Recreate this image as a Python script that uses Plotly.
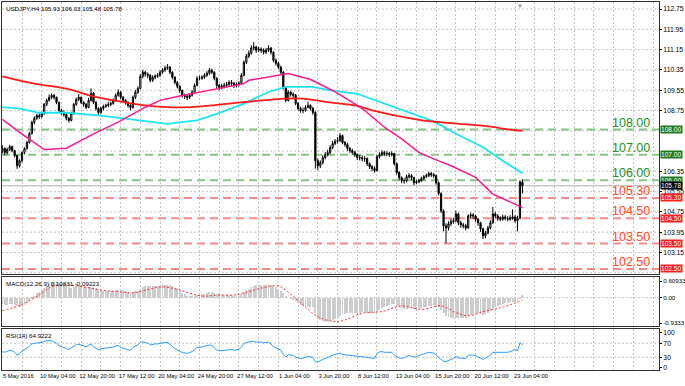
import plotly.graph_objects as go
from plotly.subplots import make_subplots

# ---------------- data (USDJPY H4) ----------------
first_open = 107.15
closes = [
    107.25, 107.09, 107.21, 107.33, 107.17, 106.97, 106.57, 106.77, 107.09, 107.25,
    107.49, 107.84, 108.28, 108.44, 108.55, 108.51, 108.63, 108.99, 109.15, 109.27,
    109.35, 109.27, 109.07, 108.75, 108.67, 108.59, 108.44, 108.36, 108.63, 108.99,
    109.19, 109.27, 109.07, 108.99, 108.87, 109.15, 109.43, 109.07, 108.83, 108.67,
    108.83, 108.91, 108.95, 108.99, 109.03, 109.15, 109.35, 109.47, 109.27, 109.15,
    109.07, 108.95, 108.87, 109.27, 109.47, 109.62, 110.10, 110.26, 110.18, 110.14,
    109.94, 110.06, 110.10, 110.14, 110.26, 110.34, 110.42, 110.46, 110.26, 110.06,
    109.86, 109.70, 109.54, 109.35, 109.31, 109.27, 109.35, 109.47, 109.74, 110.02,
    110.02, 110.06, 110.14, 110.22, 110.34, 110.26, 110.02, 109.74, 109.66, 109.70,
    109.74, 109.78, 109.86, 109.82, 109.74, 109.78, 109.82, 110.14, 110.65, 110.89,
    111.01, 111.21, 111.25, 111.13, 111.17, 111.13, 111.05, 111.13, 111.21, 111.05,
    110.73, 110.61, 110.46, 110.26, 109.66, 109.15, 109.47, 109.39, 109.35, 109.03,
    108.83, 108.75, 108.75, 108.87, 108.95, 108.83, 108.67, 106.77, 106.57, 106.69,
    106.89, 107.01, 107.09, 107.29, 107.45, 107.53, 107.57, 107.76, 107.49, 107.41,
    107.25, 107.17, 107.09, 107.01, 106.89, 106.89, 106.85, 106.85, 106.65, 106.53,
    106.46, 106.38, 106.93, 107.01, 107.09, 107.05, 107.05, 107.01, 107.05, 106.65,
    106.30, 106.10, 105.98, 105.98, 106.14, 106.18, 106.10, 105.90, 105.94, 105.98,
    106.06, 106.14, 106.18, 106.26, 106.22, 106.18, 105.90, 105.47, 104.79, 104.20,
    104.12, 104.28, 104.36, 104.40, 104.67, 104.32, 104.24, 104.20, 104.12, 104.59,
    104.63, 104.59, 104.46, 104.32, 104.08, 103.80, 103.92, 104.12, 104.32, 104.67,
    104.59, 104.50, 104.46, 104.55, 104.50, 104.46, 104.50, 104.55, 104.40, 104.50,
    105.93, 105.78,
]
highs = [
    107.38, 107.30, 107.28, 107.40, 107.36, 107.20, 107.00, 106.82, 107.14, 107.30,
    107.55, 107.90, 108.35, 108.52, 108.62, 108.64, 108.70, 109.05, 109.22, 109.38,
    109.42, 109.40, 109.30, 109.10, 108.82, 108.75, 108.65, 108.50, 108.70, 109.05,
    109.26, 109.40, 109.30, 109.12, 109.05, 109.25, 109.62, 109.48, 109.12, 108.88,
    108.90, 108.98, 109.02, 109.08, 109.10, 109.22, 109.42, 109.58, 109.52, 109.32,
    109.20, 109.12, 109.00, 109.34, 109.55, 109.70, 110.18, 110.35, 110.32, 110.25,
    110.18, 110.14, 110.18, 110.22, 110.34, 110.42, 110.52, 110.58, 110.50, 110.30,
    110.10, 109.92, 109.76, 109.58, 109.42, 109.38, 109.42, 109.55, 109.82, 110.10,
    110.12, 110.14, 110.22, 110.30, 110.42, 110.40, 110.30, 110.06, 109.80, 109.80,
    109.84, 109.88, 109.94, 109.95, 109.88, 109.86, 109.90, 110.22, 110.72, 110.98,
    111.12, 111.32, 111.45, 111.30, 111.26, 111.24, 111.20, 111.22, 111.32, 111.26,
    111.08, 110.80, 110.68, 110.52, 110.30, 109.70, 109.55, 109.52, 109.46, 109.40,
    109.08, 108.90, 108.86, 108.96, 109.10, 109.00, 108.90, 108.72, 106.85, 106.78,
    106.98, 107.12, 107.20, 107.38, 107.55, 107.62, 107.70, 107.86, 107.80, 107.55,
    107.48, 107.32, 107.24, 107.16, 107.06, 107.00, 106.98, 106.96, 106.90, 106.70,
    106.60, 106.55, 107.00, 107.10, 107.18, 107.16, 107.14, 107.12, 107.14, 107.08,
    106.70, 106.35, 106.15, 106.08, 106.22, 106.28, 106.24, 106.14, 106.02, 106.06,
    106.14, 106.20, 106.26, 106.34, 106.32, 106.28, 106.22, 105.95, 105.52, 104.85,
    104.30, 104.38, 104.48, 104.52, 104.80, 104.72, 104.40, 104.32, 104.28, 104.66,
    104.72, 104.70, 104.62, 104.50, 104.36, 104.12, 104.00, 104.20, 104.42, 104.95,
    104.75, 104.66, 104.58, 104.64, 104.62, 104.58, 104.62, 104.85, 104.62, 104.60,
    106.00, 106.03,
]
lows = [
    107.05, 106.98, 107.02, 107.15, 107.10, 106.90, 106.45, 106.50, 106.70, 107.02,
    107.20, 107.45, 107.80, 108.20, 108.38, 108.42, 108.45, 108.58, 108.92, 109.10,
    109.20, 109.18, 109.00, 108.68, 108.58, 108.50, 108.36, 108.28, 108.32, 108.58,
    108.94, 109.12, 109.00, 108.90, 108.80, 108.84, 109.10, 109.00, 108.75, 108.58,
    108.62, 108.76, 108.85, 108.88, 108.92, 108.98, 109.10, 109.30, 109.20, 109.06,
    108.98, 108.86, 108.76, 108.82, 109.20, 109.40, 109.58, 110.02, 110.08, 110.02,
    109.86, 109.88, 109.98, 110.04, 110.08, 110.20, 110.28, 110.36, 110.18, 109.98,
    109.78, 109.62, 109.45, 109.26, 109.20, 109.16, 109.20, 109.30, 109.42, 109.70,
    109.94, 109.96, 110.00, 110.08, 110.16, 110.18, 109.94, 109.62, 109.55, 109.58,
    109.62, 109.66, 109.70, 109.72, 109.64, 109.66, 109.70, 109.78, 110.10, 110.58,
    110.82, 110.95, 111.12, 111.02, 111.05, 111.02, 110.96, 110.98, 111.06, 110.96,
    110.65, 110.52, 110.38, 110.18, 109.58, 109.08, 109.10, 109.30, 109.24, 108.95,
    108.74, 108.66, 108.64, 108.70, 108.84, 108.75, 108.58, 106.46, 106.40, 106.48,
    106.62, 106.82, 106.94, 107.02, 107.22, 107.38, 107.45, 107.50, 107.42, 107.32,
    107.16, 107.08, 107.00, 106.92, 106.80, 106.78, 106.74, 106.72, 106.56, 106.44,
    106.36, 106.30, 106.34, 106.86, 106.94, 106.96, 106.95, 106.92, 106.94, 106.58,
    106.22, 106.00, 105.88, 105.86, 105.92, 106.06, 106.00, 105.80, 105.84, 105.88,
    105.94, 106.00, 106.08, 106.12, 106.12, 106.08, 105.82, 105.40, 104.70, 103.98,
    103.52, 104.02, 104.20, 104.28, 104.35, 104.22, 104.12, 104.10, 104.02, 104.08,
    104.50, 104.48, 104.36, 104.20, 103.96, 103.68, 103.72, 103.86, 104.06, 104.28,
    104.50, 104.40, 104.38, 104.40, 104.42, 104.38, 104.40, 104.44, 104.32, 103.98,
    104.45, 105.48,
]
opens = [first_open] + closes[:-1]
bars = list(range(len(closes)))

# moving averages (sampled)
ma_red_idx = [0, 13, 26, 37, 47, 58, 72, 85, 98, 115, 122, 132, 144, 150, 169, 182, 197, 208, 211]
ma_red_val = [110.10, 109.81, 109.61, 109.31, 109.12, 108.95, 108.87, 108.95, 109.08, 109.22,
              109.22, 109.08, 108.93, 108.75, 108.38, 108.25, 108.12, 107.97, 107.96]
ma_cyan_idx = [0, 7, 15, 26, 40, 53, 67, 71, 79, 87, 98, 108, 115, 126, 133, 144, 163, 175, 184, 195, 203, 211]
ma_cyan_val = [108.88, 108.82, 108.66, 108.66, 108.55, 108.40, 108.22, 108.27, 108.36, 108.62, 109.02,
               109.48, 109.68, 109.68, 109.54, 109.41, 108.75, 108.32, 107.83, 107.30, 106.77, 106.27]
ma_pink_idx = [0, 7, 17, 26, 37, 47, 58, 64, 72, 84, 98, 100, 113, 116, 125, 134, 144, 147, 155,
               162, 169, 175, 182, 192, 199, 205, 211]
ma_pink_val = [108.40, 107.89, 107.21, 107.26, 107.83, 108.29, 108.88, 109.15, 109.32, 109.54, 109.81,
               109.94, 110.18, 110.21, 109.97, 109.54, 108.95, 108.75, 108.09, 107.63, 107.10, 106.84,
               106.57, 106.11, 105.45, 105.19, 104.92]

# MACD(12,26,9)
macd_main = [
    -0.24, -0.26, -0.26, -0.25, -0.25, -0.27, -0.32, -0.33, -0.30, -0.26,
    -0.20, -0.12, -0.02, 0.08, 0.16, 0.22, 0.28, 0.36, 0.43, 0.49,
    0.54, 0.57, 0.57, 0.54, 0.50, 0.47, 0.43, 0.38, 0.37, 0.39,
    0.42, 0.44, 0.43, 0.41, 0.38, 0.38, 0.40, 0.38, 0.34, 0.29,
    0.27, 0.26, 0.25, 0.25, 0.25, 0.26, 0.28, 0.30, 0.29, 0.27,
    0.25, 0.22, 0.19, 0.20, 0.23, 0.26, 0.33, 0.39, 0.42, 0.44,
    0.43, 0.43, 0.43, 0.43, 0.44, 0.45, 0.47, 0.48, 0.46, 0.42,
    0.37, 0.31, 0.25, 0.18, 0.12, 0.07, 0.04, 0.03, 0.05, 0.09,
    0.11, 0.13, 0.15, 0.17, 0.20, 0.21, 0.19, 0.15, 0.12, 0.10,
    0.09, 0.09, 0.09, 0.09, 0.08, 0.08, 0.08, 0.12, 0.20, 0.28,
    0.33, 0.38, 0.42, 0.45, 0.47, 0.48, 0.48, 0.48, 0.47, 0.45,
    0.42, 0.38, 0.33, 0.26, 0.16, 0.06, 0.00, -0.04, -0.08, -0.14,
    -0.21, -0.27, -0.31, -0.33, -0.33, -0.34, -0.36, -0.55, -0.72, -0.82,
    -0.87, -0.89, -0.89, -0.87, -0.83, -0.78, -0.73, -0.66, -0.63, -0.60,
    -0.58, -0.57, -0.56, -0.55, -0.55, -0.55, -0.54, -0.54, -0.55, -0.57,
    -0.58, -0.60, -0.53, -0.46, -0.39, -0.34, -0.30, -0.27, -0.24, -0.25,
    -0.29, -0.34, -0.38, -0.40, -0.40, -0.39, -0.38, -0.40, -0.40, -0.39,
    -0.37, -0.35, -0.33, -0.30, -0.29, -0.28, -0.30, -0.36, -0.46, -0.58,
    -0.67, -0.72, -0.74, -0.75, -0.73, -0.73, -0.73, -0.73, -0.73, -0.68,
    -0.63, -0.60, -0.58, -0.58, -0.60, -0.63, -0.60, -0.55, -0.48, -0.40,
    -0.35, -0.31, -0.27, -0.24, -0.21, -0.19, -0.17, -0.15, -0.15, -0.14,
    -0.02, 0.10831,
]
macd_sig_idx = [0, 8, 15, 20, 26, 33, 40, 47, 53, 60, 64, 70, 74, 81, 88, 94, 100, 105, 112, 118,
                123, 128, 135, 139, 146, 154, 162, 170, 178, 184, 189, 195, 203, 211]
macd_sig_val = [-0.48, -0.25, 0.10, 0.40, 0.47, 0.40, 0.28, 0.22, 0.18, 0.32, 0.40, 0.33, 0.22, 0.06,
                0.10, 0.10, 0.22, 0.35, 0.43, 0.04, -0.35, -0.70, -0.88, -0.82, -0.57, -0.51, -0.30,
                -0.43, -0.30, -0.55, -0.67, -0.51, -0.35, -0.09223]

# RSI(14)
rsi = [
    46, 44, 47, 50, 49, 44, 36, 40, 47, 51,
    56, 62, 68, 70, 71, 70, 72, 75, 77, 78,
    77, 74, 70, 63, 61, 59, 55, 52, 57, 63,
    66, 67, 64, 62, 60, 64, 67, 60, 55, 51,
    54, 55, 56, 56, 57, 59, 62, 64, 58, 55,
    53, 51, 50, 58, 62, 65, 72, 74, 72, 71,
    65, 67, 68, 68, 70, 71, 72, 72, 66, 60,
    55, 51, 47, 43, 42, 41, 43, 46, 52, 58,
    58, 59, 61, 63, 65, 63, 57, 50, 48, 49,
    50, 51, 53, 52, 50, 51, 52, 60, 69, 72,
    74, 76, 76, 73, 74, 73, 71, 72, 73, 68,
    60, 57, 54, 50, 38, 30, 37, 36, 35, 30,
    27, 26, 27, 30, 32, 31, 29, 17, 16, 20,
    24, 27, 29, 33, 36, 38, 39, 42, 38, 37,
    35, 34, 33, 32, 31, 31, 31, 31, 29, 28,
    27, 27, 40, 45, 46, 44, 44, 43, 44, 36,
    31, 28, 27, 28, 33, 35, 33, 30, 32, 35,
    38, 41, 42, 44, 43, 42, 36, 29, 22, 18,
    17, 21, 24, 26, 33, 28, 27, 27, 26, 36,
    37, 36, 34, 31, 27, 24, 27, 31, 36, 44,
    44, 43, 43, 45, 45, 44, 46, 48, 52, 49,
    71, 64.9222,
]
rsi_levels = [70, 30]

time_labels = ["5 May 2016", "10 May 04:00", "12 May 20:00", "17 May 12:00", "20 May 04:00",
               "24 May 20:00", "27 May 12:00", "1 Jun 04:00", "3 Jun 20:00", "8 Jun 12:00",
               "13 Jun 04:00", "15 Jun 20:00", "20 Jun 12:00", "23 Jun 04:00"]
bars_per_label = 16
grid_step = 8
grid_count = 34

resistance_levels = [108.00, 107.00, 106.00]
support_levels = [105.30, 104.50, 103.50, 102.50]
last_price = 105.78

price_ticks = [112.75, 111.95, 111.15, 110.35, 109.55, 108.75, 106.35, 105.55, 104.75, 103.95, 103.15]
price_grid = [112.75, 111.95, 111.15, 110.35, 109.55, 108.75, 107.95, 107.15, 106.35, 105.55,
              104.75, 103.95, 103.15, 102.35]
macd_ticks = [0.60933, 0.0, -0.93333]
macd_ticktext = ["0.60933", "0.00", "-0.9333"]
rsi_ticks = [100, 70, 30, 0]

title_text = "USDJPY,H4 105.93 106.03 105.48 105.78"
macd_text = "MACD(12,26,9) 0.10831 -0.09223"
rsi_text = "RSI(14) 64.9222"

# ---------------- figure ----------------
SANS = "Liberation Sans, Arial, sans-serif"
GRID = "#c4c4c4"
GREEN_LINE = "#86c386"
RED_LINE = "#f48a8a"
GREEN_TXT = "#1f8f1f"
RED_TXT = "#ff4a1c"

fig = make_subplots(rows=3, cols=1, shared_xaxes=True, vertical_spacing=0.01)

fig.add_trace(go.Candlestick(
    x=bars, open=opens, high=highs, low=lows, close=closes,
    increasing=dict(line=dict(color="black", width=1), fillcolor="white"),
    decreasing=dict(line=dict(color="black", width=1), fillcolor="black"),
    whiskerwidth=0, showlegend=False, hoverinfo="skip"), row=1, col=1)

fig.add_trace(go.Scatter(x=ma_cyan_idx, y=ma_cyan_val, mode="lines",
                         line=dict(color="#1fe3f5", width=1.8), showlegend=False,
                         hoverinfo="skip"), row=1, col=1)
fig.add_trace(go.Scatter(x=ma_red_idx, y=ma_red_val, mode="lines",
                         line=dict(color="#ff1a1a", width=1.8, shape="spline"), showlegend=False,
                         hoverinfo="skip"), row=1, col=1)
fig.add_trace(go.Scatter(x=ma_pink_idx, y=ma_pink_val, mode="lines",
                         line=dict(color="#ff1a8c", width=1.5), showlegend=False,
                         hoverinfo="skip"), row=1, col=1)

fig.add_trace(go.Bar(x=bars, y=macd_main, width=0.38,
                     marker=dict(color="#cdcdcd", line=dict(width=0)),
                     showlegend=False, hoverinfo="skip"), row=2, col=1)
fig.add_trace(go.Scatter(x=macd_sig_idx, y=macd_sig_val, mode="lines",
                         line=dict(color="#ff3030", width=1, dash="2px,2px", shape="spline"),
                         showlegend=False, hoverinfo="skip"), row=2, col=1)

fig.add_trace(go.Scatter(x=bars, y=rsi, mode="lines",
                         line=dict(color="#2e9bff", width=1), showlegend=False,
                         hoverinfo="skip"), row=3, col=1)

# horizontal price grid
for gv in price_grid:
    fig.add_shape(type="line", xref="x domain", x0=0, x1=1, yref="y", y0=gv, y1=gv,
                  line=dict(color=GRID, width=1, dash="2px,2px"), layer="below")

# level lines
for lv in resistance_levels:
    fig.add_shape(type="line", xref="x domain", x0=0, x1=1, yref="y", y0=lv, y1=lv,
                  line=dict(color=GREEN_LINE, width=2, dash="8px,5px"), layer="below")
for lv in support_levels:
    fig.add_shape(type="line", xref="x domain", x0=0, x1=1, yref="y", y0=lv, y1=lv,
                  line=dict(color=RED_LINE, width=2, dash="8px,5px"), layer="below")
fig.add_shape(type="line", xref="x domain", x0=0, x1=1, yref="y", y0=last_price, y1=last_price,
              line=dict(color="#b0b0b0", width=1), layer="below")
fig.add_shape(type="line", xref="x2 domain", x0=0, x1=1, yref="y2", y0=0, y1=0,
              line=dict(color=GRID, width=1, dash="2px,2px"), layer="below")
for lv in rsi_levels:
    fig.add_shape(type="line", xref="x3 domain", x0=0, x1=1, yref="y3", y0=lv, y1=lv,
                  line=dict(color=GRID, width=1, dash="2px,2px"), layer="below")

BOX_FONT = 6.6
# level labels
for lv in resistance_levels:
    fig.add_annotation(xref="paper", x=0.9895, xanchor="right", yref="y", y=lv, yanchor="bottom",
                       text=f"{lv:.2f}", showarrow=False, yshift=-2,
                       font=dict(family=SANS, size=12.5, color=GREEN_TXT))
    fig.add_annotation(xref="paper", x=1, xanchor="left", xshift=1, yref="y", y=lv,
                       text=f"{lv:.2f}", showarrow=False, bgcolor="#1f7a1f", borderpad=0,
                       font=dict(family=SANS, size=BOX_FONT, color="white"))
for lv in support_levels:
    fig.add_annotation(xref="paper", x=0.9895, xanchor="right", yref="y", y=lv, yanchor="bottom",
                       text=f"{lv:.2f}", showarrow=False, yshift=-2,
                       font=dict(family=SANS, size=12.5, color=RED_TXT))
    fig.add_annotation(xref="paper", x=1, xanchor="left", xshift=1, yref="y", y=lv,
                       text=f"{lv:.2f}", showarrow=False, bgcolor="#ff2020", borderpad=0,
                       font=dict(family=SANS, size=BOX_FONT, color="white"))
fig.add_annotation(xref="paper", x=1, xanchor="left", xshift=1, yref="y", y=last_price,
                   text=f"{last_price:.2f}", showarrow=False, bgcolor="black", borderpad=0,
                   font=dict(family=SANS, size=BOX_FONT, color="white"))

# panel titles
fig.add_annotation(xref="paper", x=0, xanchor="left", xshift=2, yref="y domain", y=1,
                   yanchor="top", yshift=-1, text=title_text, showarrow=False,
                   font=dict(family=SANS, size=6.2, color="black"))
fig.add_annotation(xref="paper", x=0, xanchor="left", xshift=2, yref="y2 domain", y=1,
                   yanchor="top", yshift=-1, text=macd_text, showarrow=False,
                   font=dict(family=SANS, size=6.2, color="black"))
fig.add_annotation(xref="paper", x=0, xanchor="left", xshift=2, yref="y3 domain", y=1,
                   yanchor="top", yshift=-1, text=rsi_text, showarrow=False,
                   font=dict(family=SANS, size=6.2, color="black"))
fig.add_annotation(xref="x", x=210, yref="paper", y=1, yanchor="top", yshift=2,
                   text="▼", showarrow=False, font=dict(size=6, color="#909090"))

grid_vals = [k * grid_step for k in range(grid_count)]
grid_text = []
for k in range(grid_count):
    idx = k * grid_step
    if idx % bars_per_label == 0 and idx // bars_per_label < len(time_labels):
        grid_text.append(time_labels[idx // bars_per_label])
    else:
        grid_text.append("")

fig.update_xaxes(range=[-0.12, 266.4], tickmode="array", tickvals=grid_vals, ticktext=grid_text,
                 showgrid=True, gridcolor=GRID, griddash="2px,2px", gridwidth=1,
                 showline=True, mirror=True, linecolor="#303030", linewidth=1,
                 zeroline=False, ticks="", rangeslider_visible=False, tickangle=0,
                 tickfont=dict(family=SANS, size=5.9, color="black"))
fig.update_xaxes(ticklabelshift=16, row=3, col=1)

common_y = dict(side="right", showline=True, mirror=True, linecolor="#303030", linewidth=1,
                ticks="outside", ticklen=2, tickcolor="black", zeroline=False, showgrid=False)

fig.update_layout(
    width=685, height=386,
    margin=dict(l=2, r=26, t=2, b=16, autoexpand=False),
    paper_bgcolor="white", plot_bgcolor="white",
    showlegend=False,
    bargap=0,
    yaxis=dict(domain=[0.2609, 1.0], range=[102.30, 113.03], tickmode="array",
               tickvals=price_ticks, tickformat=".2f",
               tickfont=dict(family=SANS, size=6.8, color="black"), **common_y),
    yaxis2=dict(domain=[0.1196, 0.2527], range=[-1.04, 0.76], tickmode="array",
                tickvals=macd_ticks, ticktext=macd_ticktext,
                tickfont=dict(family=SANS, size=6.2, color="black"), **common_y),
    yaxis3=dict(domain=[0.0, 0.1114], range=[-6.6, 110.6], tickmode="array",
                tickvals=rsi_ticks,
                tickfont=dict(family=SANS, size=6.8, color="black"), **common_y),
)

fig.write_html("out.html", config={"displayModeBar": False},
               post_script="document.body.style.margin='0';document.body.style.padding='0';"
                           "window.dispatchEvent(new Event('resize'));")
